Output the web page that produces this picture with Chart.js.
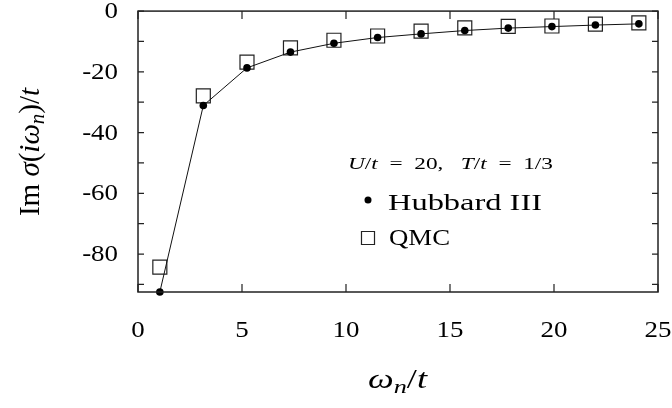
<!DOCTYPE html>
<html>
<head>
<script src="https://cdn.jsdelivr.net/npm/chart.js"></script>
<style>
  body { margin: 0; background: #fff; }
  #wrap { width: 672px; height: 408px; }
</style>
</head>
<body>
<div id="wrap"><canvas id="sigma" width="672" height="408"></canvas></div>
<script>
// Matsubara frequencies omega_n / t  (T/t = 1/3)
const omega = [1.05, 3.14, 5.24, 7.33, 9.42, 11.52, 13.61, 15.71, 17.80, 19.90, 21.99, 24.08];
// Im sigma(i omega_n)/t
const hubbard = [-92.5, -31.1, -18.7, -13.5, -10.6, -8.7, -7.5, -6.4, -5.6, -5.1, -4.6, -4.2];
const qmc = [-84.3, -27.9, -16.8, -12.1, -9.6, -8.2, -6.6, -5.5, -5.0, -4.9, -4.3, -3.9];

const xTicks = [0, 5, 10, 15, 20, 25];
const yTicks = [0, -10, -20, -30, -40, -50, -60, -70, -80, -90];
const yLabelled = [0, -20, -40, -60, -80];

const SERIF = '"Liberation Serif", "DejaVu Serif", serif';
const STRETCH = 1.17;   // the original figure is wider than tall-scaled text

function setFont(ctx, p, size) {
  ctx.font = (p[1] ? 'italic ' : '') + size * (p[2] || 1) + 'px ' + SERIF;
}
function piecesWidth(ctx, pieces, size) {
  let w = 0;
  pieces.forEach(p => { setFont(ctx, p, size); w += ctx.measureText(p[0]).width; });
  return w;
}
// pieces: [text, italic, sizeScale, dy]; stretched horizontally to width w (or by sx)
function drawPieces(ctx, pieces, x, y, size, w, sx) {
  const raw = piecesWidth(ctx, pieces, size);
  const k = w ? w / raw : (sx || 1);
  ctx.save();
  ctx.translate(x, y);
  ctx.scale(k, 1);
  let cx = 0;
  pieces.forEach(p => {
    setFont(ctx, p, size);
    ctx.fillText(p[0], cx, p[3] || 0);
    cx += ctx.measureText(p[0]).width;
  });
  ctx.restore();
  return raw * k;
}

const framePlugin = {
  id: 'frame',
  afterDatasetsDraw(chart) {
    const ctx = chart.ctx;
    const a = chart.chartArea;
    const xs = chart.scales.x, ys = chart.scales.y;
    ctx.save();
    ctx.strokeStyle = '#222';
    ctx.lineWidth = 1.5;
    ctx.strokeRect(a.left, a.top, a.right - a.left, a.bottom - a.top);
    ctx.lineWidth = 1.2;
    ctx.beginPath();
    xTicks.forEach(v => {
      const px = xs.getPixelForValue(v);
      ctx.moveTo(px, a.bottom); ctx.lineTo(px, a.bottom - 8);
      ctx.moveTo(px, a.top); ctx.lineTo(px, a.top + 8);
    });
    yTicks.forEach(v => {
      const py = ys.getPixelForValue(v);
      ctx.moveTo(a.left, py); ctx.lineTo(a.left + 6, py);
      ctx.moveTo(a.right, py); ctx.lineTo(a.right - 6, py);
    });
    ctx.stroke();

    ctx.fillStyle = '#000';
    ctx.textAlign = 'left';

    // tick labels
    ctx.textBaseline = 'middle';
    xs.ticks.forEach(t => {
      const s = String(t.value);
      const w = piecesWidth(ctx, [[s]], 23) * STRETCH;
      drawPieces(ctx, [[s]], xs.getPixelForValue(t.value) - w / 2, a.bottom + 39, 23, 0, STRETCH);
    });
    ys.ticks.forEach(t => {
      const s = String(t.value);
      const w = piecesWidth(ctx, [[s]], 23) * STRETCH;
      drawPieces(ctx, [[s]], a.left - 20 - w, ys.getPixelForValue(t.value) + 1, 23, 0, STRETCH);
    });

    ctx.textBaseline = 'alphabetic';
    // parameters
    drawPieces(ctx, [['U', true], ['/', false], ['t', true], ['  =  20,   ', false],
                     ['T', true], ['/', false], ['t', true], ['  =  1/3', false]],
               348, 169, 17, 205);
    // legend entries
    const sets = chart.data.datasets;
    const lx = 368;
    [[sets[0], 200], [sets[1], 238]].forEach(([ds, py]) => {
      ctx.fillStyle = ds.pointBackgroundColor;
      ctx.strokeStyle = ds.pointBorderColor;
      ctx.lineWidth = ds.pointBorderWidth;
      Chart.helpers.drawPoint(ctx, {
        pointStyle: ds.pointStyle, radius: ds.pointStyle === 'rect' ? 9.2 : 3.5,
        rotation: 0, borderWidth: ds.pointBorderWidth
      }, lx, py);
    });
    ctx.fillStyle = '#000';
    drawPieces(ctx, [[sets[0].label]], 388, 210, 24, 154);
    drawPieces(ctx, [[sets[1].label]], 389, 245, 24, 61);

    // x title
    drawPieces(ctx, [['ω', true], ['n', true, 0.72, 5], ['/', false], ['t', true]],
               368, 388, 27, 59);

    // y title (vertical, unstretched along its length)
    const yt = [['Im ', false], ['σ', true], ['(', false], ['iω', true], ['n', true, 0.72, 5],
                [')', false], ['/', false], ['t', true]];
    const wy = piecesWidth(ctx, yt, 29);
    ctx.translate(39, 152);
    ctx.rotate(-Math.PI / 2);
    drawPieces(ctx, yt, -wy / 2, 0, 29, 0, 1);
    ctx.restore();
  }
};

function noPad(s) {
  s.paddingLeft = 0; s.paddingRight = 0; s.paddingTop = 0; s.paddingBottom = 0;
}

new Chart(document.getElementById('sigma'), {
  type: 'scatter',
  data: {
    datasets: [{
      label: 'Hubbard III',
      data: omega.map((x, i) => ({ x: x, y: hubbard[i] })),
      showLine: true,
      borderColor: '#111',
      borderWidth: 1,
      pointStyle: 'circle',
      pointRadius: 3.8,
      pointBackgroundColor: '#000',
      pointBorderColor: '#000',
      pointBorderWidth: 0,
      clip: false,
      order: 1
    }, {
      label: 'QMC',
      data: omega.map((x, i) => ({ x: x, y: qmc[i] })),
      showLine: false,
      pointStyle: 'rect',
      pointRadius: 9.9,
      pointBackgroundColor: 'rgba(0,0,0,0)',
      pointBorderColor: '#222',
      pointBorderWidth: 1.2,
      borderWidth: 1.2,
      clip: false,
      order: 2
    }]
  },
  options: {
    responsive: false,
    animation: false,
    layout: { padding: { top: 7, right: 14, left: 0, bottom: 0 } },
    plugins: { legend: { display: false }, tooltip: { enabled: false } },
    scales: {
      x: {
        type: 'linear', min: 0, max: 25,
        afterFit: s => { s.height = 116; noPad(s); },
        afterBuildTicks: s => { s.ticks = xTicks.map(v => ({ value: v })); },
        grid: { display: false, drawTicks: false },
        border: { display: false },
        ticks: { display: false }
      },
      y: {
        type: 'linear', min: -92.5, max: 0,
        afterFit: s => { s.width = 138; noPad(s); },
        afterBuildTicks: s => { s.ticks = yLabelled.map(v => ({ value: v })); },
        grid: { display: false, drawTicks: false },
        border: { display: false },
        ticks: { display: false }
      }
    }
  },
  plugins: [framePlugin]
});
</script>
</body>
</html>
